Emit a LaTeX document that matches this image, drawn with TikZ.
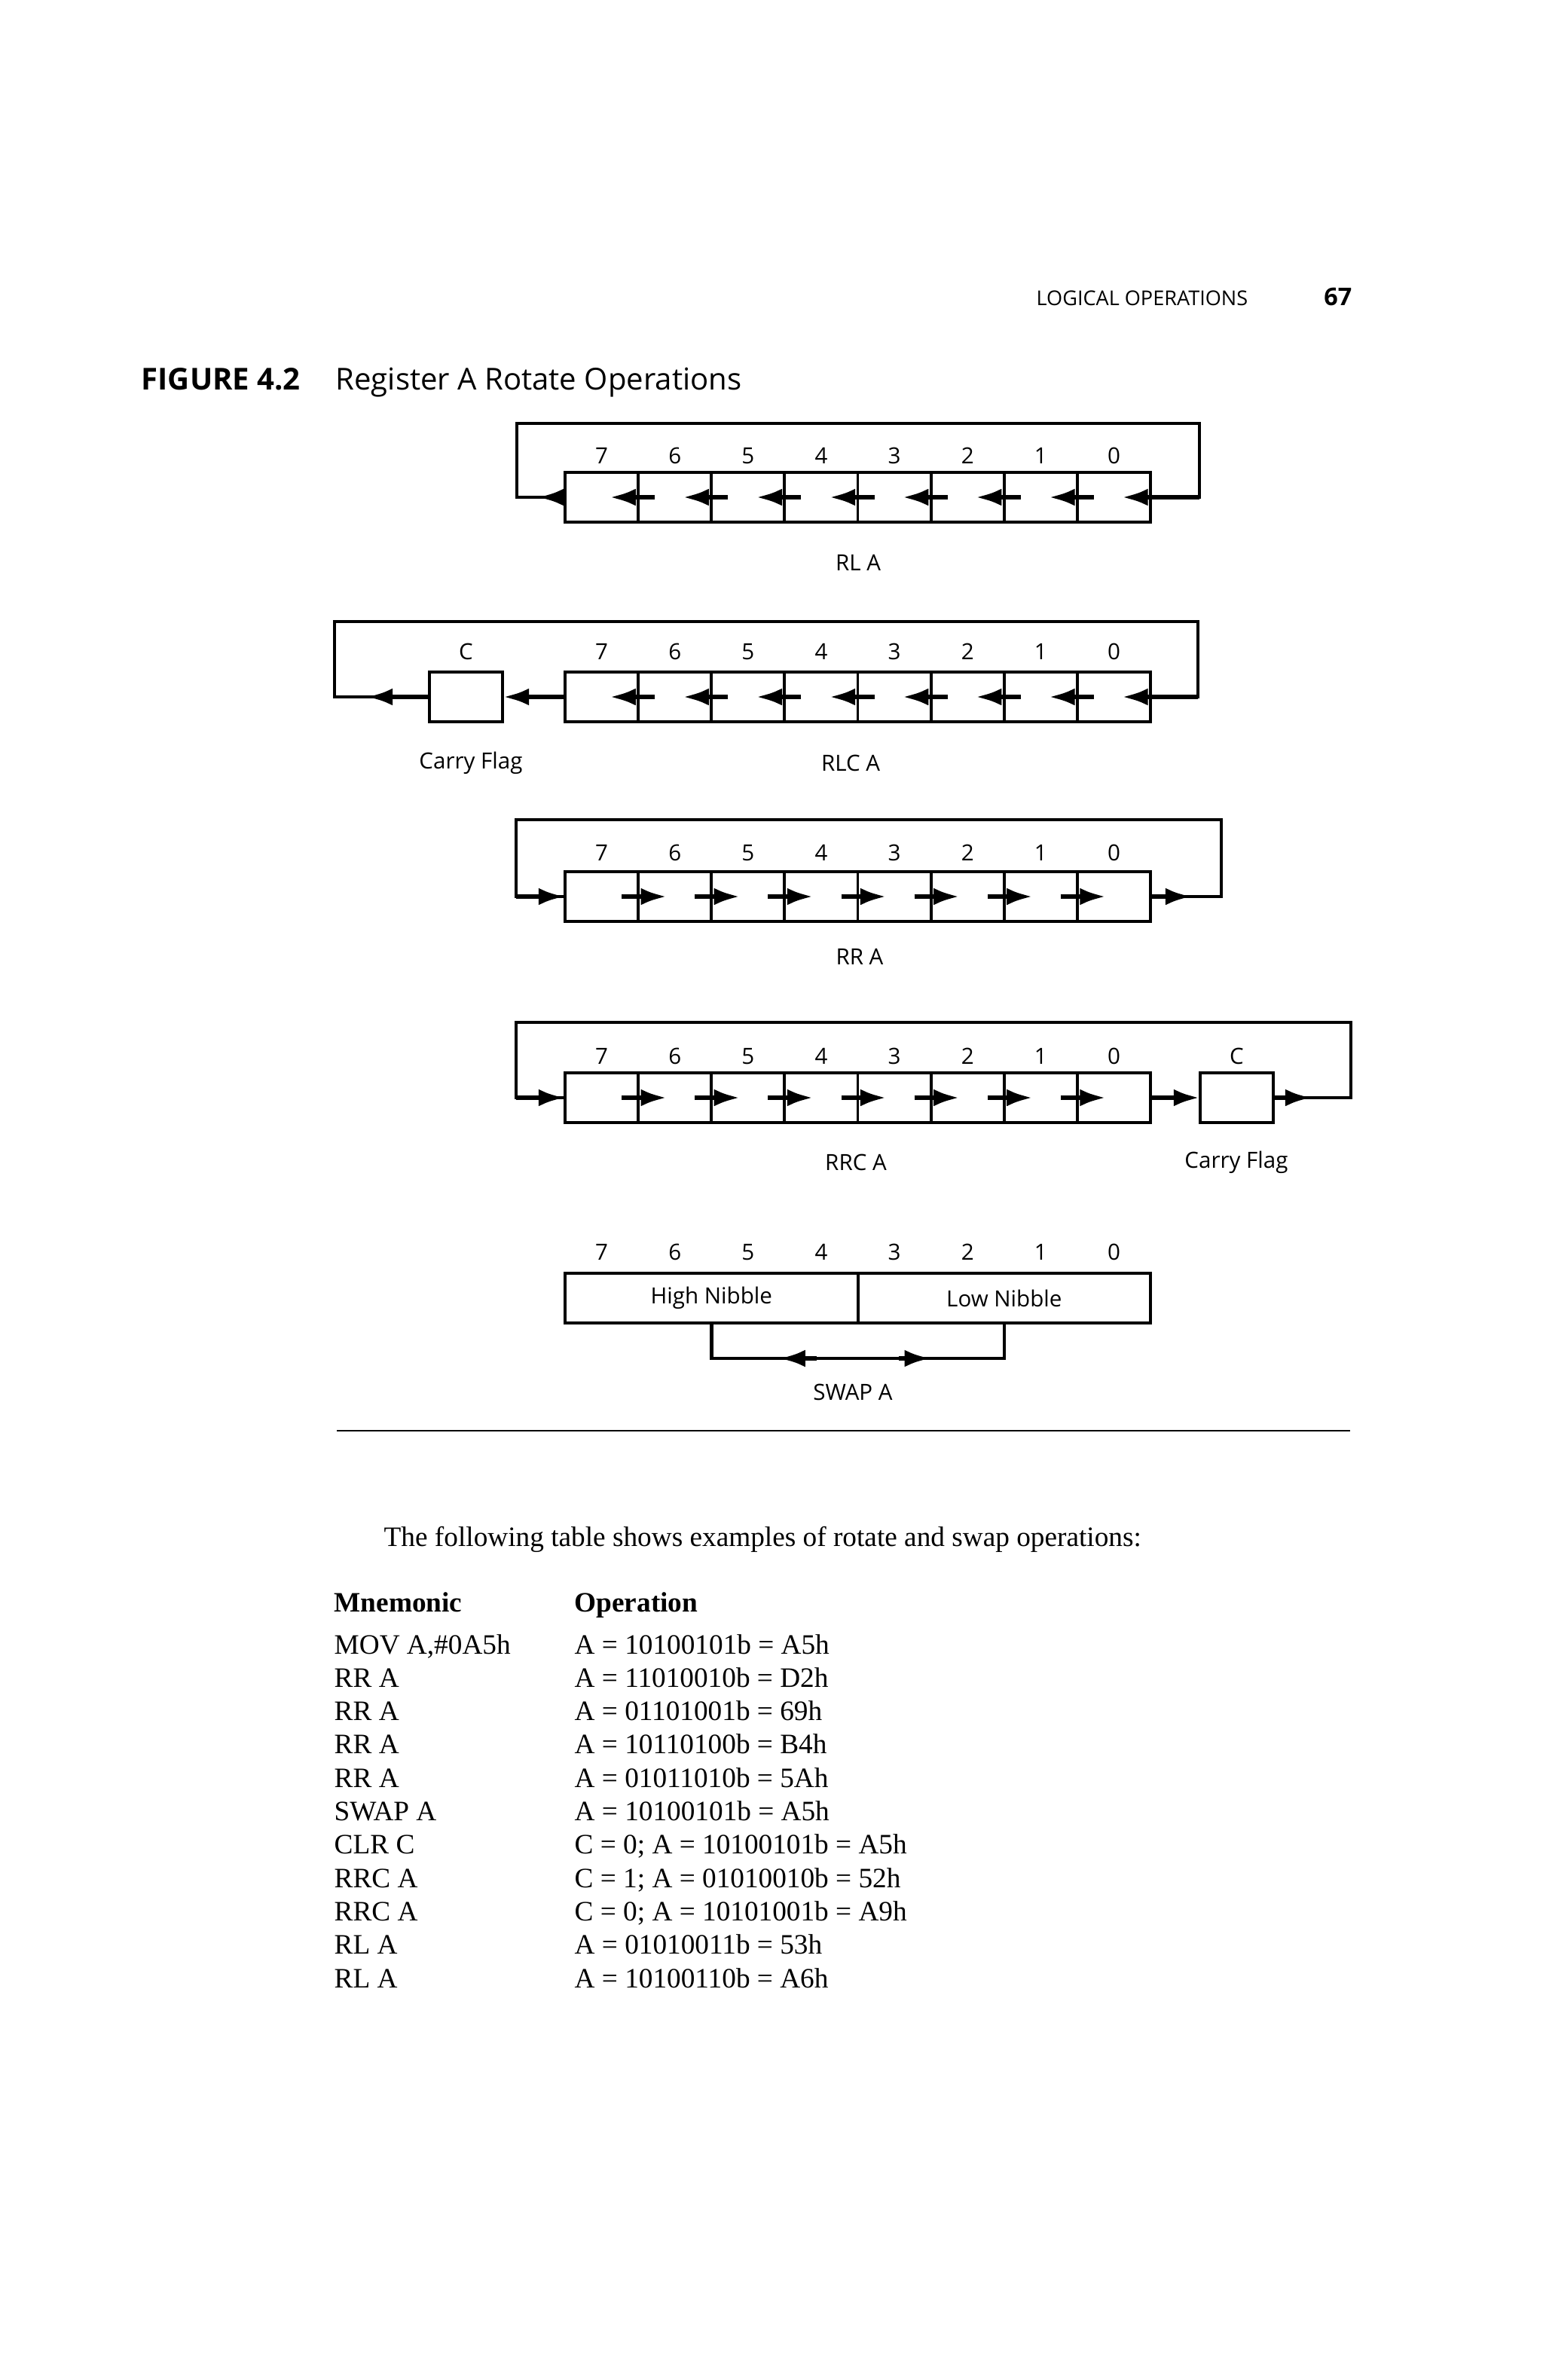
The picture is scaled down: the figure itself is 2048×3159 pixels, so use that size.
\documentclass[tikz,border=0pt]{standalone}
\usepackage{fontspec}
\setmainfont{Liberation Serif}
\newfontfamily\figfont{Open Sans}
\usetikzlibrary{arrows.meta,positioning,calc}
\tikzset{
    bitcell/.style={draw,line width=1.1pt,minimum width=0.971cm,minimum height=0.66cm,inner sep=0pt,outer sep=0pt},
    nibble/.style={bitcell,minimum width=3.885cm,font=\figfont\fontsize{8.4}{9}\selectfont},
    bitlbl/.style={font=\figfont\fontsize{8.4}{9}\selectfont,inner sep=0pt},
    oplbl/.style={font=\figfont\fontsize{8.4}{9}\selectfont,inner sep=0pt},
    loopline/.style={line width=1.3pt},
    arr/.style={-{Latex[length=10pt,width=6.5pt]},line width=1.9pt},
    tabtxt/.style={anchor=base west,inner sep=0pt,font=\fontsize{10.6}{12.6}\selectfont},
    tabhead/.style={anchor=base west,inner sep=0pt,font=\bfseries\fontsize{10.6}{12.6}\selectfont}
}

\begin{document}
\begin{tikzpicture}[x=0.01cm,y=-0.01cm]
  \fill[white] (0,0) rectangle (2048,3159);
  \useasboundingbox (0,0) rectangle (2048,3159);
  % page header and caption
  \node[anchor=base west,inner sep=0pt,font=\figfont\fontsize{7.7}{9}\selectfont] (hdr) at (1375,405) {LOGICAL OPERATIONS};
  \node[anchor=base east,inner sep=0pt,font=\figfont\bfseries\fontsize{9.2}{10}\selectfont] (pgno) at (1795,405) {67};
  \node[anchor=base west,inner sep=0pt,font=\figfont\bfseries\fontsize{11.4}{13}\selectfont] (fig) at (187,517) {FIGURE 4.2};
  \node[anchor=base west,inner sep=0pt,font=\figfont\fontsize{11.4}{13}\selectfont] (figtitle) at (445,517) {Register A Rotate Operations};

  % RL A
  \foreach \b in {0,...,7}{
    \node[bitcell] (rla\b) at ({798.6+97.125*(7-\b)},660) {};
    \node[bitlbl] (rlan\b) at ({798.6+97.125*(7-\b)},605) {\b};
  }
  \foreach \b [count=\p from 0] in {1,...,7}
    \draw[arr] ([xshift=0.22cm]rla\p.west) -- ([xshift=0.1cm]rla\b.center);
  \coordinate (rlaL) at (686,562);
  \coordinate (rlaR) at (1592,562);
  \draw[loopline] (rla7.west) -- (rla7.west -| rlaL) -- (rlaL) -- (rlaR) -- (rla0.east -| rlaR) -- (rla0.east);
  \draw[arr] (rla0.east -| rlaR) -- ([xshift=0.1cm]rla0.center);
  \draw[arr] (rla7.west) -- ([xshift=-0.37cm]rla7.west);
  \node[oplbl] (rlaname) at (1139,747) {RL A};

  % RLC A
  \foreach \b in {0,...,7}{
    \node[bitcell] (rlc\b) at ({798.6+97.125*(7-\b)},925) {};
    \node[bitlbl] (rlcn\b) at ({798.6+97.125*(7-\b)},865) {\b};
  }
  \foreach \b [count=\p from 0] in {1,...,7}
    \draw[arr] ([xshift=0.22cm]rlc\p.west) -- ([xshift=0.1cm]rlc\b.center);
  \node[bitcell] (rlcc) at (618.5,925) {};
  \node[bitlbl] (rlccn) at (618.5,865) {C};
  \coordinate (rlcL) at (444,825);
  \coordinate (rlcR) at (1590,825);
  \draw[loopline] (rlcc.west) -- (rlcc.west -| rlcL) -- (rlcL) -- (rlcR) -- (rlc0.east -| rlcR) -- (rlc0.east);
  \draw[arr] (rlc7.west) -- (rlcc.east);
  \draw[arr] (rlcc.west) -- ($(rlcc.west -| rlcL)+(42,0)$);
  \draw[arr] (rlc0.east -| rlcR) -- ([xshift=0.1cm]rlc0.center);
  \node[oplbl] (rlccf) at (625,1013) {Carry Flag};
  \node[oplbl] (rlcname) at (1129,1013) {RLC A};

  % RR A
  \foreach \b in {0,...,7}{
    \node[bitcell] (rr\b) at ({798.6+97.125*(7-\b)},1190) {};
    \node[bitlbl] (rrn\b) at ({798.6+97.125*(7-\b)},1132) {\b};
  }
  \foreach \b [count=\p from 0] in {1,...,7}
    \draw[arr] ([xshift=-0.22cm]rr\b.east) -- ([xshift=-0.1cm]rr\p.center);
  \coordinate (rrL) at (685,1088);
  \coordinate (rrR) at (1621,1088);
  \draw[loopline] (rr0.east) -- (rr0.east -| rrR) -- (rrR) -- (rrL) -- (rr7.west -| rrL) -- (rr7.west);
  \draw[arr] (rr7.west -| rrL) -- (rr7.west);
  \draw[arr] (rr0.east) -- ([xshift=0.55cm]rr0.east);
  \node[oplbl] (rrname) at (1141,1270) {RR A};

  % RRC A
  \foreach \b in {0,...,7}{
    \node[bitcell] (rrc\b) at ({798.6+97.125*(7-\b)},1457) {};
    \node[bitlbl] (rrcn\b) at ({798.6+97.125*(7-\b)},1402) {\b};
  }
  \foreach \b [count=\p from 0] in {1,...,7}
    \draw[arr] ([xshift=-0.22cm]rrc\b.east) -- ([xshift=-0.1cm]rrc\p.center);
  \node[bitcell] (rrcc) at (1641.5,1457) {};
  \node[bitlbl] (rrccn) at (1641.5,1402) {C};
  \coordinate (rrcL) at (685,1357);
  \coordinate (rrcR) at (1793,1357);
  \draw[loopline] (rrcc.east) -- (rrcc.east -| rrcR) -- (rrcR) -- (rrcL) -- (rrc7.west -| rrcL) -- (rrc7.west);
  \draw[arr] (rrc7.west -| rrcL) -- (rrc7.west);
  \draw[arr] (rrc0.east) -- (rrcc.west);
  \draw[arr] (rrcc.east) -- ([xshift=0.51cm]rrcc.east);
  \node[oplbl] (rrcname) at (1136,1543) {RRC A};
  \node[oplbl] (rrccf) at (1641,1543) {Carry Flag};

  % SWAP A
  \foreach \b in {0,...,7}
    \node[bitlbl] (swn\b) at ({798.6+97.125*(7-\b)},1662) {\b};
  \node[nibble] (hi) at (944.3,1723) {High Nibble};
  \node[nibble] (lo) at (1332.8,1723) {Low Nibble};
  \coordinate (swbl) at ($(hi.south)+(0,47)$);
  \coordinate (swbr) at (swbl -| lo.south);
  \draw[loopline] (hi.south) -- (swbl) -- (swbr) -- (lo.south);
  \draw[arr] ($(swbl)!0.36!(swbr)$) -- ($(swbl)!0.23!(swbr)$);
  \draw[arr] ($(swbl)!0.64!(swbr)$) -- ($(swbl)!0.75!(swbr)$);
  \node[oplbl] (swname) at (1132,1848) {SWAP A};

  % rule under the figure
  \coordinate (rulel) at (447,1899);
  \coordinate (ruler) at (1792,1899);
  \draw[line width=0.6pt] (rulel) -- (ruler);

  % examples table
  \node[tabtxt] (intro) at (509,2052) {The following table shows examples of rotate and swap operations:};
  \node[tabhead] (mnhead) at (443,2139) {Mnemonic};
  \node[tabhead] (ophead) at (762,2139) {Operation};
  \foreach \m/\o [count=\k from 0] in {
    {MOV A,\#0A5h}/{A = 10100101b = A5h},
    {RR A}/{A = 11010010b = D2h},
    {RR A}/{A = 01101001b = 69h},
    {RR A}/{A = 10110100b = B4h},
    {RR A}/{A = 01011010b = 5Ah},
    {SWAP A}/{A = 10100101b = A5h},
    {CLR C}/{C = 0; A = 10100101b = A5h},
    {RRC A}/{C = 1; A = 01010010b = 52h},
    {RRC A}/{C = 0; A = 10101001b = A9h},
    {RL A}/{A = 01010011b = 53h},
    {RL A}/{A = 10100110b = A6h}}{
    \node[tabtxt] (mn\k) at (443,{2195+44.3*\k}) {\m};
    \node[tabtxt] (op\k) at (762,{2195+44.3*\k}) {\o};
  }
\end{tikzpicture}
\end{document}
